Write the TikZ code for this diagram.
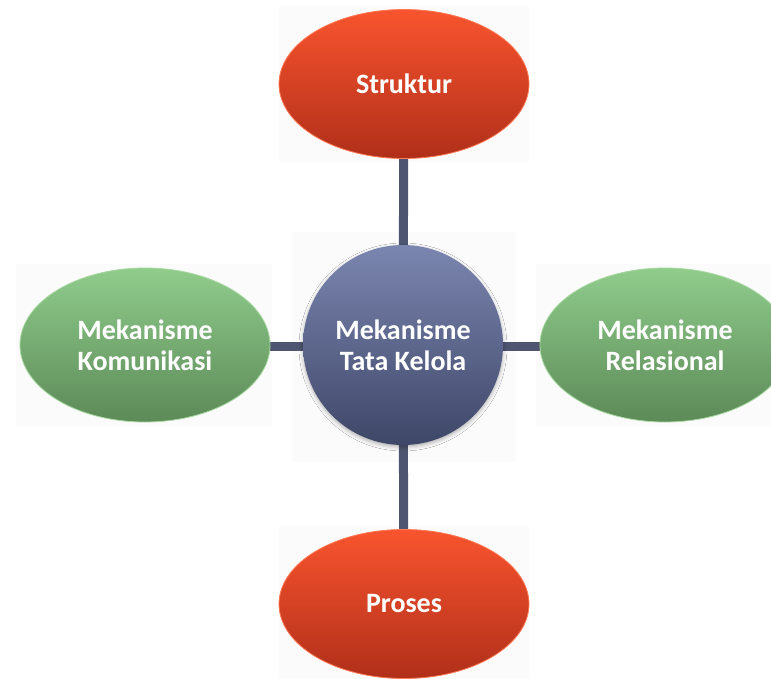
\documentclass[tikz,border=0pt]{standalone}
\usepackage{fontspec}
\setmainfont{Carlito}
\usetikzlibrary{shapes.geometric,backgrounds,shadows.blur}

\definecolor{redtop}{HTML}{F9542F}
\definecolor{redbot}{HTML}{B02F19}
\definecolor{redrim}{HTML}{FF7A55}
\definecolor{greentop}{HTML}{90CC8C}
\definecolor{greenbot}{HTML}{5C8A58}
\definecolor{greenrim}{HTML}{A6D8A0}
\definecolor{bluetop}{HTML}{7B86B0}
\definecolor{bluebot}{HTML}{3F4768}
\definecolor{linkcol}{HTML}{4D5570}
\definecolor{haze}{HTML}{FBFBFB}

\tikzset{
  lbl/.style={text=white, font=\fontsize{28}{31}\selectfont\bfseries, align=center, inner sep=0pt},
  redoval/.style={lbl, ellipse, minimum width=250pt, minimum height=149pt,
    top color=redtop, bottom color=redbot, draw=redrim, line width=0.8pt},
  greenoval/.style={lbl, ellipse, minimum width=250pt, minimum height=154pt,
    top color=greentop, bottom color=greenbot, draw=greenrim, line width=0.8pt},
  hub/.style={lbl, circle, minimum size=200pt,
    top color=bluetop, bottom color=bluebot,
    blur shadow={shadow xshift=0pt, shadow yshift=-2pt, shadow blur radius=4pt, shadow opacity=30}},
  link/.style={draw=linkcol, line width=9pt},
  backdrop/.style={fill=haze, draw=none}
}

\begin{document}
\begin{tikzpicture}[x=1pt, y=-1pt]
  \useasboundingbox (0,0) rectangle (771,679);
  \clip (0,0) rectangle (771,679);

  \node[redoval]   (struktur) at (404,84)  {Struktur};
  \node[redoval]   (proses)   at (404,604) {Proses};
  \node[greenoval] (komun)    at (145,345) {Mekanisme\\Komunikasi};
  \node[greenoval] (relas)    at (665,345) {Mekanisme\\Relasional};
  \node[hub]       (tata)     at (403,345) {Mekanisme\\Tata Kelola};

  \begin{scope}[on background layer]
    % faint panels behind each shape
    \fill[backdrop] (struktur.west |- 0,6) rectangle (struktur.east |- 0,162);
    \fill[backdrop] (proses.west |- 0,526) rectangle (proses.east |- 0,679);
    \fill[backdrop] (16,264) rectangle (272,426);
    \fill[backdrop] (536,264) rectangle (771,426);
    \fill[backdrop] (292,232) rectangle (516,462);
    % spokes
    \draw[link] (struktur.center) -- (tata.center);
    \draw[link] (proses.center) -- (tata.center);
    \draw[link] (komun.center |- 0,346) -- (relas.center |- 0,346);
  \end{scope}
\end{tikzpicture}
\end{document}
